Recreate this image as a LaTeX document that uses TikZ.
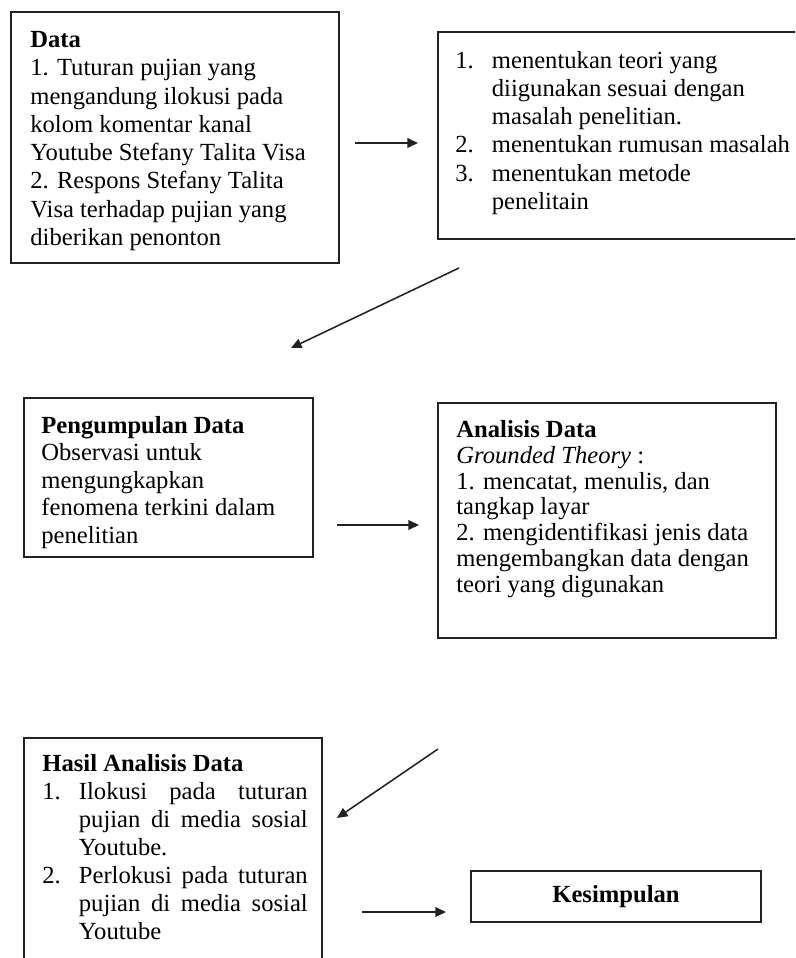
\documentclass[tikz,border=0pt]{standalone}
\usepackage{fontspec}
\setmainfont{Liberation Serif}
\usepackage{tikz}
\usetikzlibrary{arrows.meta,fit}
\definecolor{garis}{HTML}{222222}
\newcommand{\rata}[1]{\makebox[119pt][s]{#1}}
\hbadness=10000

\begin{document}
\begin{tikzpicture}[
  x=0.52pt, y=-0.52pt,
  kotak/.style={draw=garis,line width=0.9pt,inner sep=0pt,rectangle},
  isi/.style={anchor=north west,inner sep=0pt,align=left,
              font=\fontsize{12.8}{#1}\selectfont},
  isi/.default=14.6pt,
  panah/.style={-{Triangle[length=5.5pt,width=5pt]},draw=garis,line width=0.8pt},
]
\useasboundingbox (0,0) rectangle (795,958);
\clip (0,0) rectangle (795,958);

\node[kotak,fit={(11,12) (339,263)}]   (data)     {};
\node[kotak,fit={(438,32) (830,239)}]  (teori)    {};
\node[kotak,fit={(24,398) (313,557)}]  (kumpul)   {};
\node[kotak,fit={(438,403) (776,638)}] (analisis) {};
\node[kotak,fit={(24,738) (322,990)}]  (hasil)    {};
\node[kotak,fit={(471,871) (761,922)}] (simpul)   {};

\node[isi=14.7pt] (datateks) at (30,31)
  {\textbf{Data}\\1. Tuturan pujian yang\\mengandung ilokusi pada\\kolom komentar kanal\\
   Youtube Stefany Talita Visa\\2. Respons Stefany Talita\\Visa terhadap pujian yang\\
   diberikan penonton};
\node[isi=14.7pt] (teoriteks) at (455,48)
  {\begin{tabular}[t]{@{}p{19pt}@{}l@{}}
   1. & menentukan teori yang\\
      & diigunakan sesuai dengan\\
      & masalah penelitian.\\
   2. & menentukan rumusan masalah\\
   3. & menentukan metode\\
      & penelitain
   \end{tabular}};
\node[isi=14.3pt] (kumpulteks) at (41,416)
  {\textbf{Pengumpulan Data}\\Observasi untuk\\mengungkapkan\\fenomena terkini dalam\\penelitian};
\node[isi=13.4pt] (analisisteks) at (456,420)
  {\textbf{Analisis Data}\\\textit{Grounded Theory} :\\1. mencatat, menulis, dan\\tangkap layar\\
   2. mengidentifikasi jenis data\\mengembangkan data dengan\\teori yang digunakan};
\node[isi=14.6pt] (hasilteks) at (42,754)
  {\textbf{Hasil Analisis Data}\\
   \begin{tabular}[t]{@{}p{19pt}@{}l@{}}
   1. & \rata{Ilokusi pada tuturan}\\
      & \rata{pujian di media sosial}\\
      & Youtube.\\
   2. & \rata{Perlokusi pada tuturan}\\
      & \rata{pujian di media sosial}\\
      & Youtube
   \end{tabular}};
\node[font=\fontsize{12.8}{14}\selectfont\bfseries] (simpulteks) at (simpul.center) {Kesimpulan};

\coordinate (a1) at (355,143); \coordinate (b1) at (418,143);
\coordinate (a2) at (459,268); \coordinate (b2) at (291,348);
\coordinate (a3) at (337,525); \coordinate (b3) at (419,525);
\coordinate (a4) at (438,749); \coordinate (b4) at (337,818);
\coordinate (a5) at (362,912); \coordinate (b5) at (446,912);

\draw[panah] (a1) -- (b1);
\draw[panah] (a2) -- (b2);
\draw[panah] (a3) -- (b3);
\draw[panah] (a4) -- (b4);
\draw[panah] (a5) -- (b5);
\end{tikzpicture}
\end{document}
